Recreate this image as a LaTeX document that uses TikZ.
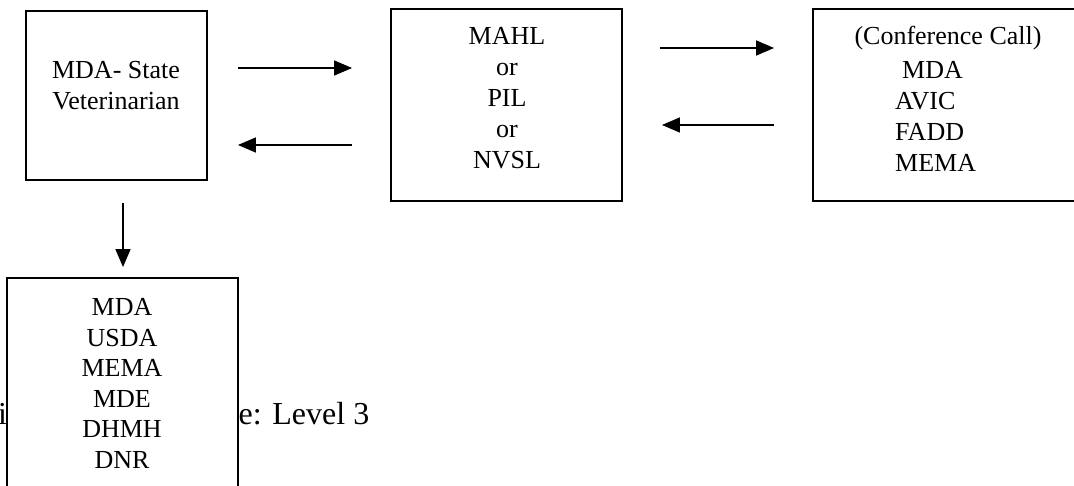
\documentclass[tikz,border=0pt]{standalone}
\usepackage{fontspec}
\setmainfont{Liberation Serif}
\usetikzlibrary{arrows.meta,calc}
\begin{document}
\begin{tikzpicture}[x=1pt,y=1pt,
  box/.style={draw,line width=1.9pt,fill=white,inner sep=0pt},
  txt/.style={inner sep=0pt,align=center,font=\fontsize{26}{31}\selectfont},
  big/.style={inner sep=0pt,font=\fontsize{32}{36}\selectfont},
  arr/.style={line width=1.5pt,-{Triangle[length=18pt,width=15pt]}}]
\useasboundingbox (0,0) rectangle (1074,485);
\fill[white] (0,0) rectangle (1074,485);
% partially hidden caption text
\node[big,anchor=base west] (capl) at (-2,60) {i};
\node[big,anchor=base west] (capr) at (226,60) {se: Level 3};
% boxes
\node[box,minimum width=181pt,minimum height=169pt] (b1) at (116.5,389.5) {};
\node[box,minimum width=231pt,minimum height=192pt] (b2) at (506.5,380) {};
\node[box,minimum width=272pt,minimum height=192pt] (b3) at (949,380) {};
\node[box,minimum width=231pt,minimum height=232pt] (b4) at (122.5,91) {};
% texts
\node[txt] (t1) at (116,399) {MDA- State\\Veterinarian};
\node[txt] (t2) at (507,386.5) {MAHL\\or\\PIL\\or\\NVSL};
\node[txt] (t3a) at (948,447) {(Conference Call)};
\node[txt,align=left,anchor=west] (t3b) at (895,369) {\hspace{7pt}MDA\\AVIC\\FADD\\MEMA};
\node[txt,font=\fontsize{26}{30.6}\selectfont] (t4) at (122,101.5) {MDA\\USDA\\MEMA\\MDE\\DHMH\\DNR};
% arrows
\coordinate (a1s) at ($(b1.east)+(30,27.5)$);
\coordinate (a1e) at ($(b2.west)+(-38,37)$);
\coordinate (a2s) at ($(b2.west)+(-38,-40)$);
\coordinate (a2e) at ($(b1.east)+(30,-49.5)$);
\coordinate (a3s) at ($(b2.east)+(37,57)$);
\coordinate (a3e) at ($(b3.west)+(-38,57)$);
\coordinate (a4s) at ($(b3.west)+(-38,-20)$);
\coordinate (a4e) at ($(b2.east)+(39,-20)$);
\coordinate (a5s) at ($(b1.south)+(6.5,-22)$);
\coordinate (a5e) at ($(b4.north)+(0.5,10)$);
\draw[arr] (a1s) -- (a1e);
\draw[arr] (a2s) -- (a2e);
\draw[arr] (a3s) -- (a3e);
\draw[arr] (a4s) -- (a4e);
\draw[arr] (a5s) -- (a5e);
\end{tikzpicture}
\end{document}
